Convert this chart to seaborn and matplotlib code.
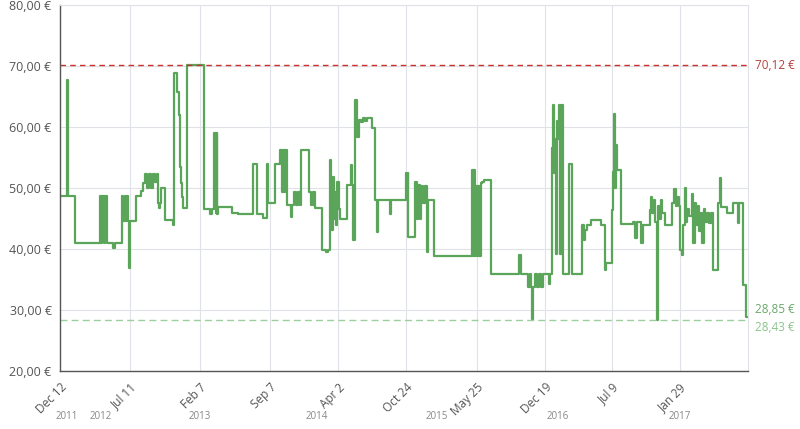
import pandas as pd
import numpy as np
import seaborn as sns
import matplotlib.pyplot as plt
import matplotlib.transforms as mtransforms
from matplotlib.ticker import FuncFormatter

# price history (step changes)
dates = [
    "2011-12-12", "2012-01-02", "2012-01-05", "2012-01-27", "2012-04-10", "2012-04-14", "2012-04-17",
    "2012-04-22", "2012-04-25", "2012-05-02", "2012-05-20", "2012-05-26", "2012-06-16", "2012-06-21",
    "2012-06-25", "2012-06-29", "2012-07-03", "2012-07-06", "2012-07-08", "2012-07-11", "2012-07-30",
    "2012-08-14", "2012-08-19", "2012-08-25", "2012-08-31", "2012-09-06", "2012-09-12", "2012-09-18",
    "2012-09-24", "2012-09-30", "2012-10-03", "2012-10-06", "2012-10-09", "2012-10-13", "2012-10-25",
    "2012-11-18", "2012-11-22", "2012-11-29", "2012-12-07", "2012-12-10", "2012-12-13", "2012-12-16",
    "2012-12-19", "2012-12-29", "2013-02-20", "2013-03-10", "2013-03-16", "2013-03-23", "2013-03-28",
    "2013-03-31", "2013-04-01", "2013-04-04", "2013-05-14", "2013-06-02", "2013-07-19", "2013-07-31",
    "2013-08-18", "2013-08-28", "2013-08-31", "2013-09-22", "2013-10-07", "2013-10-12", "2013-10-15",
    "2013-10-19", "2013-10-22", "2013-10-28", "2013-11-10", "2013-11-13", "2013-11-19", "2013-11-25",
    "2013-12-01", "2013-12-07", "2013-12-11", "2014-01-04", "2014-01-09", "2014-01-15", "2014-01-22",
    "2014-02-11", "2014-02-23", "2014-03-01", "2014-03-08", "2014-03-10", "2014-03-16", "2014-03-19",
    "2014-03-22", "2014-03-27", "2014-03-30", "2014-04-04", "2014-04-08", "2014-04-28", "2014-05-11",
    "2014-05-14", "2014-05-17", "2014-05-22", "2014-05-27", "2014-06-04", "2014-06-09", "2014-06-15",
    "2014-06-21", "2014-06-27", "2014-07-12", "2014-07-22", "2014-07-27", "2014-07-31", "2014-09-04",
    "2014-09-08", "2014-10-24", "2014-10-27", "2014-10-30", "2014-10-31", "2014-11-21", "2014-11-25",
    "2014-11-29", "2014-12-04", "2014-12-07", "2014-12-14", "2014-12-19", "2014-12-26", "2014-12-28",
    "2015-01-17", "2015-05-11", "2015-05-13", "2015-05-17", "2015-05-21", "2015-05-24", "2015-05-27",
    "2015-05-30", "2015-06-02", "2015-06-07", "2015-06-11", "2015-06-16", "2015-07-07", "2015-10-01",
    "2015-10-07", "2015-10-29", "2015-11-02", "2015-11-07", "2015-11-10", "2015-11-12", "2015-11-17",
    "2015-11-23", "2015-11-29", "2015-12-06", "2015-12-12", "2015-12-31", "2016-01-03", "2016-01-08",
    "2016-01-11", "2016-01-13", "2016-01-16", "2016-01-19", "2016-01-23", "2016-01-26", "2016-01-29",
    "2016-02-01", "2016-02-04", "2016-02-09", "2016-02-29", "2016-03-10", "2016-04-09", "2016-04-13",
    "2016-04-18", "2016-04-23", "2016-05-05", "2016-06-04", "2016-06-17", "2016-06-19", "2016-07-07",
    "2016-07-10", "2016-07-13", "2016-07-16", "2016-07-19", "2016-07-22", "2016-08-03", "2016-09-09",
    "2016-09-14", "2016-09-21", "2016-10-03", "2016-10-10", "2016-10-30", "2016-11-03", "2016-11-07",
    "2016-11-12", "2016-11-16", "2016-11-21", "2016-11-23", "2016-11-27", "2016-12-02", "2016-12-06",
    "2016-12-14", "2017-01-05", "2017-01-11", "2017-01-16", "2017-01-20", "2017-01-25", "2017-01-28",
    "2017-02-03", "2017-02-08", "2017-02-13", "2017-02-15", "2017-02-21", "2017-02-27", "2017-03-08",
    "2017-03-11", "2017-03-15", "2017-03-20", "2017-03-24", "2017-03-29", "2017-04-03", "2017-04-07",
    "2017-04-12", "2017-04-16", "2017-04-22", "2017-04-28", "2017-05-04", "2017-05-10", "2017-05-25",
    "2017-05-30", "2017-06-02", "2017-06-20", "2017-07-08", "2017-07-23", "2017-07-26", "2017-08-07",
    "2017-08-18", "2017-08-23",
]
prices = [
    48.7, 67.8, 48.7, 41.0, 48.7, 41.0, 48.7,
    41.0, 48.7, 41.0, 40.2, 41.0, 48.7, 44.6,
    48.7, 44.6, 48.7, 44.6, 36.9, 44.6, 48.7,
    49.5, 50.8, 52.3, 50.0, 52.3, 50.0, 52.3,
    51.0, 52.3, 47.5, 46.7, 47.5, 50.0, 44.75,
    43.9, 68.9, 65.7, 62.0, 53.5, 50.8, 48.6,
    46.7, 70.12, 46.6, 45.7, 46.6, 59.0, 46.0,
    59.0, 45.7, 46.9, 45.85, 45.7, 54.0, 45.7,
    45.1, 54.0, 47.5, 54.0, 56.3, 49.4, 56.3,
    49.4, 56.3, 47.2, 45.3, 47.2, 49.3, 47.2,
    49.3, 47.2, 56.3, 49.3, 47.2, 49.3, 46.7,
    39.8, 39.5, 39.8, 54.6, 43.1, 51.8, 45.0,
    49.3, 44.0, 51.0, 46.5, 45.0, 50.5, 53.8,
    50.5, 41.5, 64.4, 58.3, 61.2, 60.8, 61.5,
    61.0, 61.5, 59.8, 48.0, 42.8, 48.0, 45.7,
    48.0, 52.4, 50.0, 52.4, 42.0, 51.0, 45.0,
    50.5, 45.0, 50.3, 47.5, 50.3, 39.6, 48.0,
    38.85, 52.9, 38.85, 52.9, 38.85, 50.3, 38.85,
    50.3, 38.85, 50.8, 51.0, 51.3, 36.0, 39.0,
    36.0, 33.8, 36.0, 33.8, 28.43, 33.8, 36.0,
    33.8, 36.0, 33.8, 36.0, 34.2, 36.0, 56.5,
    63.6, 52.4, 58.0, 39.2, 61.0, 58.0, 63.6,
    39.2, 63.6, 36.0, 54.0, 36.0, 44.0, 41.5,
    43.2, 44.0, 44.75, 43.9, 36.6, 37.7, 46.4,
    52.7, 62.2, 50.0, 57.0, 52.9, 44.05, 44.4,
    41.75, 44.4, 41.0, 44.0, 46.4, 48.6, 46.0,
    48.0, 44.5, 28.43, 47.0, 45.0, 48.0, 46.0,
    44.0, 47.5, 49.9, 47.0, 48.5, 47.0, 39.8,
    39.0, 44.0, 50.1, 44.5, 46.5, 45.5, 49.0,
    41.0, 47.5, 44.0, 47.0, 43.0, 46.0, 41.0,
    46.5, 44.5, 46.0, 44.3, 46.0, 36.6, 47.5,
    51.6, 46.9, 45.85, 47.6, 44.3, 47.6, 34.1,
    28.85, 28.85,
]

max_price = 70.12
min_price = 28.43
current_price = 28.85

tick_dates = ["2011-12-12", "2012-07-11", "2013-02-07", "2013-09-07", "2014-04-02",
              "2014-10-24", "2015-05-25", "2015-12-19", "2016-07-09", "2017-01-29"]
tick_labels = ["Dec 12", "Jul 11", "Feb 7", "Sep 7", "Apr 2",
               "Oct 24", "May 25", "Dec 19", "Jul 9", "Jan 29"]
year_dates = ["2012-01-02", "2012-04-14", "2013-02-07", "2014-01-27",
              "2015-01-24", "2016-01-26", "2017-01-29"]
year_labels = ["2011", "2012", "2013", "2014", "2015", "2016", "2017"]

df = pd.DataFrame({"date": pd.to_datetime(dates), "price": prices})

sns.set_style("white")
plt.rcParams["font.family"] = ["Open Sans", "DejaVu Sans"]

fig = plt.figure(figsize=(8, 4.29), dpi=100)
ax = fig.add_axes([0.075, 0.135, 0.86, 0.853])

sns.lineplot(data=df, x="date", y="price", ax=ax, estimator=None,
             drawstyle="steps-post", color="#5aa55a", linewidth=1.6)

ax.axhline(max_price, color="#c9302c", linestyle=(0, (4, 3)), linewidth=1.0)
ax.axhline(min_price, color="#9ccf9c", linestyle=(0, (5, 3)), linewidth=1.0)

ax.set_xlim(pd.Timestamp("2011-12-12"), pd.Timestamp("2017-08-23"))
ax.set_ylim(20, 80)
ax.set_yticks(np.arange(20, 81, 10))
ax.yaxis.set_major_formatter(FuncFormatter(lambda v, p: f"{v:.2f} €".replace(".", ",")))
ax.set_xticks(pd.to_datetime(tick_dates))
ax.set_xticklabels(tick_labels, rotation=45, ha="right", rotation_mode="anchor")
ax.tick_params(axis="y", labelsize=9, labelcolor="#555555", length=4, color="#555555", pad=2)
ax.tick_params(axis="x", labelsize=8.5, labelcolor="#555555", length=4, color="#555555", pad=3)
ax.set_xlabel("")
ax.set_ylabel("")

ax.grid(True, color="#dfe2e6", linewidth=0.8)
ax.set_axisbelow(True)
for side in ["top", "right"]:
    ax.spines[side].set_color("#dfe2e6")
    ax.spines[side].set_linewidth(0.8)
for side in ["left", "bottom"]:
    ax.spines[side].set_color("#555555")
    ax.spines[side].set_linewidth(1.0)

trans = mtransforms.blended_transform_factory(ax.transData, ax.transAxes)
for d, lab in zip(year_dates, year_labels):
    ax.text(pd.Timestamp(d), -0.125, lab, transform=trans, ha="center", va="center",
            fontsize=7, color="#888888")

rtrans = mtransforms.blended_transform_factory(ax.transAxes, ax.transData)
ax.text(1.01, max_price, "70,12 €", transform=rtrans, va="center", ha="left",
        fontsize=8.5, color="#b5403c")
ax.annotate("28,85 €", xy=(1.01, current_price), xycoords=rtrans, xytext=(0, 1),
            textcoords="offset points", va="bottom", ha="left", fontsize=8.5, color="#6aa86a")
ax.annotate("28,43 €", xy=(1.01, min_price), xycoords=rtrans, xytext=(0, -1),
            textcoords="offset points", va="top", ha="left", fontsize=8.5, color="#8cc48c")

fig.savefig("out.png", dpi=100)
